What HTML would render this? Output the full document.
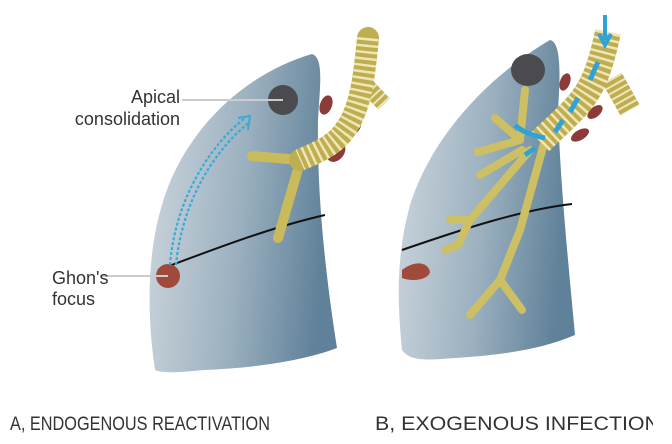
<!DOCTYPE html>
<html><head><meta charset="utf-8"><style>
html,body{margin:0;padding:0;background:#fff;width:672px;height:444px;overflow:hidden}
svg{display:block}
text{font-family:"Liberation Sans",sans-serif;fill:#333}
</style></head><body>
<svg width="672" height="444" viewBox="0 0 672 444" xmlns="http://www.w3.org/2000/svg">
<defs>
<linearGradient id="lg" x1="0" y1="0" x2="1" y2="0.15">
<stop offset="0" stop-color="#ced7de"/><stop offset="0.55" stop-color="#9bb0bf"/><stop offset="1" stop-color="#5f8199"/>
</linearGradient>
</defs>
<!-- LEFT LUNG -->
<path d="M155 370 C146 310 148 250 162 205 C182 135 240 75 312 54 C324 58 320 85 318 120 C317 190 324 265 337 348 C300 362 250 368 205 370 C180 372 165 374 155 370 Z" fill="url(#lg)"/>
<path d="M158 270 C200 255 260 230 325 215" stroke="#111" stroke-width="2" fill="none"/>
<circle cx="283" cy="100" r="15" fill="#4a4a4f"/>
<circle cx="168" cy="276" r="12" fill="#a04a3c"/>
<ellipse cx="326" cy="105" rx="6" ry="10" fill="#8d3a3a" transform="rotate(20 326 105)"/>
<ellipse cx="353" cy="128" rx="9" ry="6" fill="#8d3a3a" transform="rotate(-40 353 128)"/>
<ellipse cx="336" cy="152" rx="8" ry="11" fill="#8d3a3a" transform="rotate(40 336 152)"/>
<path d="M300 160 L252 156 M300 162 L278 238" stroke="#c9bb5c" stroke-width="10" fill="none" stroke-linecap="round"/>
<path d="M366 85 L384 104" stroke="#bfae4f" stroke-width="16" fill="none"/>
<path d="M366 85 L384 104" stroke="#eee6b8" stroke-width="16" stroke-dasharray="2 4" fill="none"/>
<path d="M368 38 C364 80 360 110 345 130 C335 145 318 152 300 160" stroke="#bfae4f" stroke-width="22" fill="none" stroke-linecap="round"/>
<path d="M368 38 C364 80 360 110 345 130 C335 145 318 152 300 160" stroke="#eee6b8" stroke-width="22" stroke-dasharray="2.5 4" fill="none"/>
<path d="M170 265 C175 200 210 145 245 118" stroke="#3aa9d8" stroke-width="2.2" stroke-dasharray="3 2" fill="none"/>
<path d="M176 265 C182 200 216 148 250 122" stroke="#3aa9d8" stroke-width="2.2" stroke-dasharray="3 2" fill="none"/>
<path d="M238 118 L250 116 L248 130" stroke="#3aa9d8" stroke-width="2" fill="none"/>
<line x1="182" y1="100" x2="283" y2="100" stroke="#ccc" stroke-width="2"/>
<line x1="100" y1="276" x2="168" y2="276" stroke="#ccc" stroke-width="2"/>
<text x="180" y="103" font-size="18" text-anchor="end">Apical</text>
<text x="180" y="125" font-size="18" text-anchor="end">consolidation</text>
<text x="52" y="284" font-size="18">Ghon's</text>
<text x="52" y="305" font-size="18">focus</text>
<!-- RIGHT LUNG -->
<path d="M402 350 C396 290 398 250 410 205 C432 135 490 75 550 40 C562 42 560 80 558 110 C560 180 568 260 575 335 C540 350 500 355 455 358 C430 360 410 362 402 350 Z" fill="url(#lg)"/>
<path d="M402 250 C460 230 520 210 572 204" stroke="#111" stroke-width="2" fill="none"/>
<ellipse cx="528" cy="70" rx="17" ry="16" fill="#4a4a4f"/>
<path d="M402 270 C415 260 428 262 430 272 C428 280 412 282 402 278 Z" fill="#a04a3c"/>
<ellipse cx="565" cy="82" rx="5" ry="9" fill="#8d3a3a" transform="rotate(20 565 82)"/>
<ellipse cx="595" cy="112" rx="5" ry="9" fill="#8d3a3a" transform="rotate(50 595 112)"/>
<ellipse cx="580" cy="135" rx="5" ry="10" fill="#8d3a3a" transform="rotate(60 580 135)"/>
<path d="M545 140 L520 230 L500 280 L470 315 M500 280 L522 310 M525 90 L520 140 L495 118 M520 140 L478 152 M522 150 L480 175 M530 150 L470 220 L450 220 M470 220 L458 245 L445 250" stroke="#cdbf63" stroke-width="8" fill="none" stroke-linecap="round" stroke-linejoin="round"/>
<path d="M612 78 L630 110" stroke="#bfae4f" stroke-width="22" fill="none"/>
<path d="M612 78 L630 110" stroke="#eee6b8" stroke-width="22" stroke-dasharray="2 4" fill="none"/>
<path d="M608 32 C600 70 592 90 575 108 C562 122 552 130 540 142" stroke="#bfae4f" stroke-width="26" fill="none"/>
<path d="M608 32 C600 70 592 90 575 108 C562 122 552 130 540 142" stroke="#eee6b8" stroke-width="26" stroke-dasharray="2.5 4" fill="none"/>
<path d="M605 15 L605 40 M599 34 L605 45 L611 34" stroke="#2fa3d6" stroke-width="4" fill="none"/>
<path d="M598 62 L590 80 M578 98 L570 112 M563 120 L555 132" stroke="#2fa3d6" stroke-width="5" fill="none"/>
<path d="M545 138 C530 135 520 130 515 125 M535 148 L525 155" stroke="#2fa3d6" stroke-width="5" fill="none"/>
<text x="10" y="430" font-size="19" textLength="260" lengthAdjust="spacingAndGlyphs">A, ENDOGENOUS REACTIVATION</text>
<svg x="0" y="0" width="653" height="444"><text x="375" y="430" font-size="19" textLength="285" lengthAdjust="spacingAndGlyphs">B, EXOGENOUS INFECTION</text></svg>
</svg>
</body></html>
